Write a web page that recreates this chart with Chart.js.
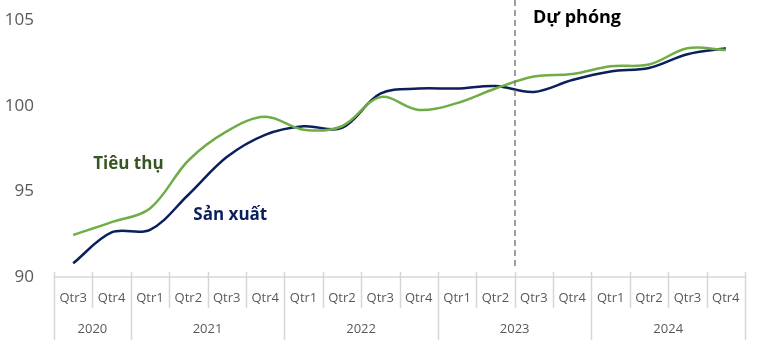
<!DOCTYPE html>
<html>
<head>
<meta charset="utf-8">
<script src="https://cdn.jsdelivr.net/npm/chart.js@4"></script>
<style>
  html, body { margin: 0; padding: 0; background: #fff; }
  #wrap { width: 765px; height: 350px; position: relative; }
</style>
</head>
<body>
<div id="wrap"><canvas id="chart"></canvas></div>
<script>
// quarters along the axis, grouped by year underneath
const quarters = ["Qtr3", "Qtr4",
  "Qtr1", "Qtr2", "Qtr3", "Qtr4",
  "Qtr1", "Qtr2", "Qtr3", "Qtr4",
  "Qtr1", "Qtr2", "Qtr3", "Qtr4",
  "Qtr1", "Qtr2", "Qtr3", "Qtr4"];
const years = ["2020", "2021", "2022", "2023", "2024"];
const quartersPerYear = [2, 4, 4, 4, 4];

const consumption = [92.45, 93.2, 94.0, 96.8, 98.5, 99.35, 98.6, 98.8, 100.5, 99.75,
  100.15, 101.0, 101.7, 101.85, 102.3, 102.4, 103.35, 103.25];
const production = [90.8, 92.6, 92.75, 94.8, 97.0, 98.3, 98.8, 98.7, 100.7, 101.0,
  101.0, 101.15, 100.8, 101.5, 102.0, 102.2, 103.0, 103.35];

const yTicks = [90, 95, 100, 105];
const forecastStart = 12; // first forecast quarter (2023 Qtr3)

const GRAY = "#595959";
const RULE = "#d6d6d6";

// two-level category axis drawn under the plot: quarters, then years
const groupedAxis = {
  id: "groupedAxis",
  afterDraw(chart) {
    const { ctx, chartArea } = chart;
    const x = chart.scales.x;
    const w = (x.right - x.left) / quarters.length;
    const base = chartArea.bottom;
    ctx.save();
    ctx.strokeStyle = RULE;
    ctx.lineWidth = 1.5;
    ctx.beginPath();
    ctx.moveTo(x.left, base);
    ctx.lineTo(x.right, base);
    ctx.stroke();

    // year boundaries
    const yearEdges = [0];
    quartersPerYear.forEach((n) => yearEdges.push(yearEdges[yearEdges.length - 1] + n));

    for (let i = 0; i <= quarters.length; i++) {
      const px = Math.round(x.left + i * w) + 0.5;
      const long = yearEdges.includes(i);
      ctx.beginPath();
      ctx.moveTo(px, base - 5);
      ctx.lineTo(px, long ? base + 63 : base + 31);
      ctx.stroke();
    }

    ctx.fillStyle = GRAY;
    ctx.font = "13px 'Open Sans'";
    ctx.textAlign = "center";
    ctx.textBaseline = "middle";
    quarters.forEach((q, i) => {
      ctx.fillText(q, x.getPixelForValue(i), base + 21);
    });
    years.forEach((yr, k) => {
      const a = x.left + yearEdges[k] * w;
      const b = x.left + yearEdges[k + 1] * w;
      ctx.fillText(yr, (a + b) / 2, base + 52);
    });

    // forecast divider
    const fx = Math.round(x.left + forecastStart * w);
    ctx.strokeStyle = "#7f7f7f";
    ctx.lineWidth = 1.5;
    ctx.setLineDash([6, 4]);
    ctx.beginPath();
    ctx.moveTo(fx, 0);
    ctx.lineTo(fx, base - 8);
    ctx.stroke();
    ctx.setLineDash([]);

    // labels
    const y = chart.scales.y;
    ctx.textAlign = "left";
    ctx.font = "bold 17px 'Open Sans'";
    ctx.fillStyle = "#375623";
    ctx.fillText("Tiêu thụ", x.getPixelForValue(0) + 20, y.getPixelForValue(96.6));
    ctx.fillStyle = "#0b1f5c";
    ctx.fillText("Sản xuất", x.getPixelForValue(3) + 5, y.getPixelForValue(93.6));
    ctx.fillStyle = "#000";
    ctx.font = "bold 18px 'Open Sans'";
    ctx.fillText("Dự phóng", fx + 18, y.getPixelForValue(105.1));
    ctx.restore();
  },
};

new Chart(document.getElementById("chart"), {
  type: "line",
  data: {
    labels: quarters,
    datasets: [
      {
        label: "Tiêu thụ",
        data: consumption,
        borderColor: "#70ad47",
        borderWidth: 2.5,
        pointRadius: 0,
        tension: 0.35,
      },
      {
        label: "Sản xuất",
        data: production,
        borderColor: "#0b1f5c",
        borderWidth: 2.5,
        pointRadius: 0,
        tension: 0.35,
      },
    ],
  },
  options: {
    responsive: true,
    maintainAspectRatio: false,
    animation: false,
    layout: { padding: { left: 4, right: 20, top: 20, bottom: 73 } },
    scales: {
      x: { display: false, offset: true },
      y: {
        min: 90,
        max: 105,
        afterBuildTicks: (s) => { s.ticks = yTicks.map((v) => ({ value: v })); },
        afterFit: (s) => { s.width = 50; s.paddingTop = 0; s.paddingBottom = 0; },
        grid: { display: false, drawTicks: false },
        border: { display: false },
        ticks: { color: GRAY, font: { family: "Open Sans", size: 17 }, padding: 20 },
      },
    },
    plugins: { legend: { display: false }, tooltip: { enabled: false } },
  },
  plugins: [groupedAxis],
});
</script>
</body>
</html>
